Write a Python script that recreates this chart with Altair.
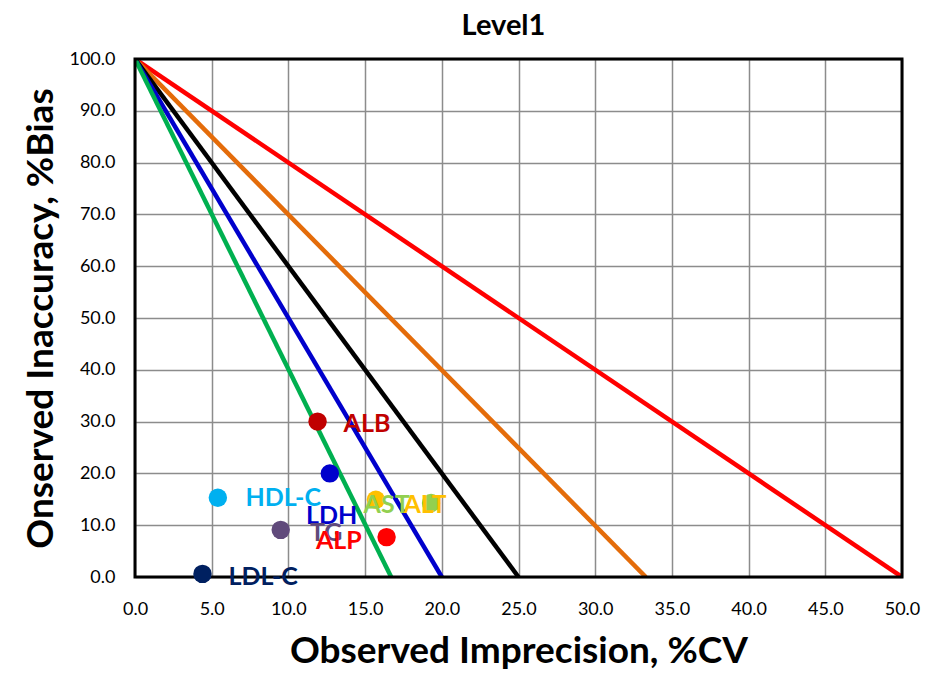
import altair as alt
import pandas as pd

# Sigma lines: from (0, 100) to (x_end, 0)
line_names = ["2 sigma", "3 sigma", "4 sigma", "5 sigma", "6 sigma"]
line_x_end = [50.0, 33.3, 25.0, 20.0, 16.7]
line_colors = ["#FF0000", "#E46C0A", "#000000", "#0000CC", "#00B050"]

# Analytes
analytes = ["ALB", "LDH", "HDL-C", "AST", "ALT", "TG", "ALP", "LDL-C"]
cv = [11.9, 12.7, 5.4, 15.7, 19.3, 9.5, 16.4, 4.4]
bias = [30.0, 20.0, 15.3, 14.9, 14.3, 9.1, 7.7, 0.6]
point_colors = ["#C00000", "#0000CC", "#00B0F0", "#FFC000", "#92D050", "#604A7B", "#FF0000", "#002060"]

# Data label anchor positions (left edge) in data units
label_text = ["ALB", "LDH", "HDL-C", "AST", "ALT", "TG", "ALP", "LDL-C"]
label_x = [13.6, 11.15, 7.2, 14.9, 17.5, 11.4, 11.8, 6.1]
label_y = [29.5, 11.8, 15.3, 13.9, 13.9, 8.5, 6.9, 0.0]
label_colors = ["#C00000", "#0000CC", "#00B0F0", "#92D050", "#FFC000", "#604A7B", "#FF0000", "#002060"]

rows = []
for n, xe, c in zip(line_names, line_x_end, line_colors):
    rows.append({"line": n, "x": 0.0, "y": 100.0, "color": c})
    rows.append({"line": n, "x": xe, "y": 0.0, "color": c})
lines_df = pd.DataFrame(rows)

pts_df = pd.DataFrame({"name": analytes, "cv": cv, "bias": bias, "color": point_colors})
lab_df = pd.DataFrame({"text": label_text, "x": label_x, "y": label_y, "color": label_colors})

FONT = "Lato"
W, H = 767, 518

xscale = alt.Scale(domain=[0, 50], nice=False, zero=False)
yscale = alt.Scale(domain=[0, 100], nice=False, zero=False)

xaxis = alt.Axis(
    title="Observed Imprecision, %CV", values=list(range(0, 51, 5)), format=".1f",
    grid=True, gridColor="#8C8C8C", gridWidth=1.5, domain=False, ticks=False,
    labelFlush=False, labelOverlap=False,
    labelFont=FONT, labelFontSize=18, labelColor="#000000", labelPadding=23,
    titleFont=FONT, titleFontSize=37, titleFontWeight="bold", titleColor="#000000",
    titlePadding=15,
)
yaxis = alt.Axis(
    title="Onserved Inaccuracy, %Bias", values=list(range(0, 101, 10)), format=".1f",
    grid=True, gridColor="#8C8C8C", gridWidth=1.5, domain=False, ticks=False,
    labelFlush=False, labelOverlap=False,
    labelFont=FONT, labelFontSize=18, labelColor="#000000", labelPadding=20,
    titleFont=FONT, titleFontSize=37, titleFontWeight="bold", titleColor="#000000",
    titlePadding=8,
)

lines = alt.Chart(lines_df).mark_line(strokeWidth=4.5, clip=True).encode(
    x=alt.X("x:Q", scale=xscale, axis=xaxis),
    y=alt.Y("y:Q", scale=yscale, axis=yaxis),
    detail="line:N",
    color=alt.Color("color:N", scale=None),
)

border = alt.Chart(pd.DataFrame({"b": [1]})).mark_rect(
    filled=False, stroke="#000000", strokeWidth=3
).encode(x=alt.value(0), x2=alt.value(W), y=alt.value(0), y2=alt.value(H))

points = alt.Chart(pts_df).mark_circle(size=340, opacity=1).encode(
    x="cv:Q", y="bias:Q", color=alt.Color("color:N", scale=None),
)

labels = alt.Chart(lab_df).mark_text(
    align="left", baseline="middle", font=FONT, fontSize=25, fontWeight="bold"
).encode(
    x="x:Q", y="y:Q", text="text:N", color=alt.Color("color:N", scale=None),
)

chart = alt.layer(lines, border, points, labels).properties(
    width=W, height=H,
    title=alt.TitleParams("Level1", font=FONT, fontSize=29, fontWeight="bold",
                          color="#000000", anchor="middle", offset=9, dx=-15),
    autosize=alt.AutoSizeParams(type="none"),
    padding={"left": 127, "top": 51, "right": 19, "bottom": 97},
).configure_view(stroke=None).configure(background="#FFFFFF")

chart.save("out.html", embed_options={"renderer": "svg", "actions": False})
